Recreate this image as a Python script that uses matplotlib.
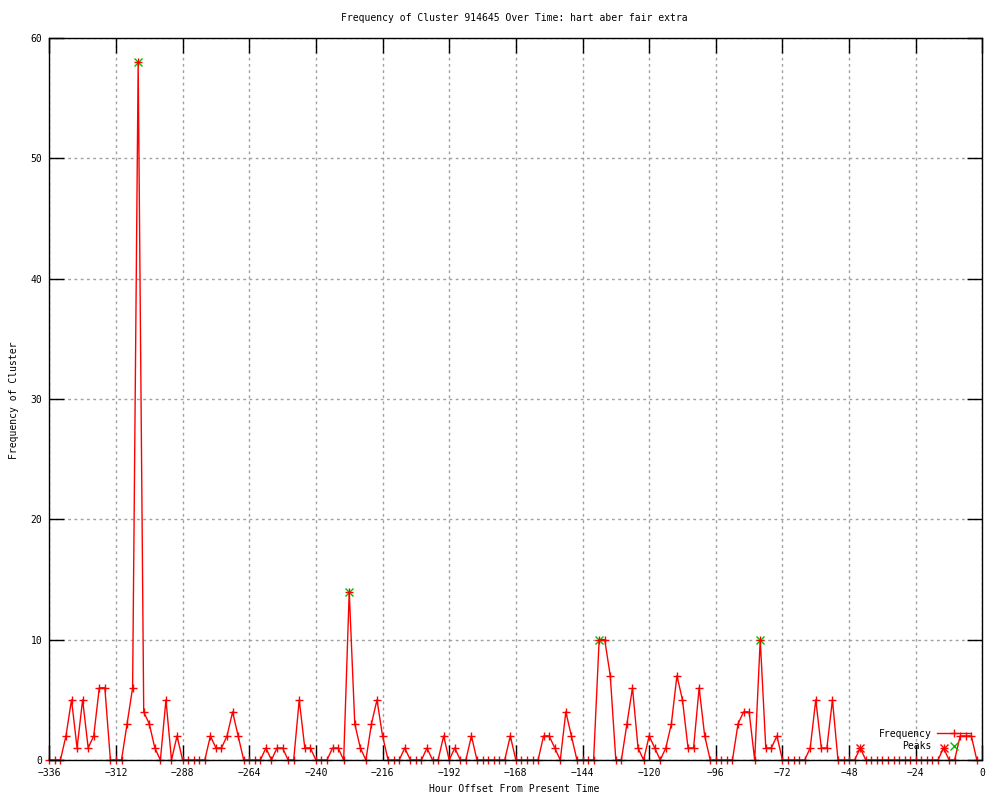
import matplotlib
matplotlib.use("Agg")
import matplotlib.pyplot as plt
from matplotlib.lines import Line2D

# ---- data ----
hours = list(range(-336, 0, 2))
frequency = [
    0, 0, 0, 2, 5, 1, 5, 1, 2, 6, 6, 0, 0, 0, 3, 6, 58,
    4, 3, 1, 0, 5, 0, 2, 0, 0, 0, 0, 0, 2, 1, 1, 2, 4, 2, 0, 0, 0, 0, 1, 0, 1,
    1, 0, 0, 5, 1, 1, 0, 0, 0, 1, 1, 0, 14, 3, 1, 0, 3, 5, 2, 0,
    0, 0, 1, 0, 0, 0, 1, 0, 0, 2, 0, 1, 0, 0, 2, 0, 0, 0, 0, 0, 0, 2,
    0, 0, 0, 0, 0, 2, 2, 1, 0, 4, 2, 0, 0, 0, 0, 10, 10, 7, 0, 0,
    3, 6, 1, 0, 2, 1, 0, 1, 3, 7, 5, 1, 1, 6, 2, 0, 0, 0, 0, 0, 3,
    4, 4, 0, 10, 1, 1, 2, 0, 0, 0, 0, 0, 1, 5, 1, 1, 5, 0, 0, 0,
    0, 1, 0, 0, 0, 0, 0, 0, 0, 0, 0, 0, 0, 0, 0, 0, 1, 0, 0, 2, 2, 2, 0,
]
peak_hours = [-304, -228, -138, -80]
peak_values = [58, 14, 10, 10]
minor_peak_hours = [-44, -14]
minor_peak_values = [1, 1]

x_ticks = list(range(-336, 1, 24))
y_ticks = [0, 10, 20, 30, 40, 50, 60]

title = "Frequency of Cluster 914645 Over Time: hart aber fair extra"
xlabel = "Hour Offset From Present Time"
ylabel = "Frequency of Cluster"

RED = "#ff0000"
GREEN = "#00c000"
FONT = "DejaVu Sans Mono"
FS = 7

plt.rcParams["font.family"] = FONT

fig = plt.figure(figsize=(10, 8), dpi=100)
ax = fig.add_axes([0.0493, 0.05, 0.9824 - 0.0493, 0.9525 - 0.05])

ax.plot(hours, frequency, color=RED, lw=1.0, marker="+", ms=6, mew=1.0,
        clip_on=False, zorder=3)
ax.plot(peak_hours, peak_values, ls="none", marker="x", color=GREEN, ms=5.5,
        mew=1.0, clip_on=False, zorder=2)
ax.plot(minor_peak_hours, minor_peak_values, ls="none", marker="x", color=RED,
        ms=5.5, mew=1.0, clip_on=False, zorder=2)

ax.set_xlim(-336, 0)
ax.set_ylim(0, 60)
ax.set_xticks(x_ticks)
ax.set_yticks(y_ticks)
ax.set_xticklabels([str(t).replace("-", "\u2212") for t in x_ticks])
ax.tick_params(direction="in", length=11, width=1, top=True, right=True,
               labelsize=FS, colors="black")
ax.tick_params(axis="x", pad=6)
ax.tick_params(axis="y", pad=5)
ax.grid(True, color="#a0a0a0", ls=(0, (2, 2.5)), lw=1.0)
ax.set_axisbelow(True)
for s in ax.spines.values():
    s.set_linewidth(1.0)
    s.set_zorder(4)

fig.text(0.5145, 0.977, title, ha="center", va="center", fontsize=FS)
fig.text(0.5145, 0.008, xlabel, ha="center", va="bottom", fontsize=FS)
fig.text(0.014, 0.5, ylabel, ha="center", va="center", rotation=90, fontsize=FS)

handles = [
    Line2D([], [], color=RED, lw=1.0, marker="+", ms=6, mew=1.0),
    Line2D([], [], ls="none", color=GREEN, marker="x", ms=5.5, mew=1.0),
]
leg = ax.legend(handles, ["Frequency", "Peaks"], loc="lower right",
                bbox_to_anchor=(0.9945, 0.003), frameon=False, fontsize=FS,
                markerfirst=False, handlelength=3.4, handletextpad=0.6,
                labelspacing=0.25, borderpad=0.2, numpoints=1)

fig.savefig("out.png", dpi=100)
